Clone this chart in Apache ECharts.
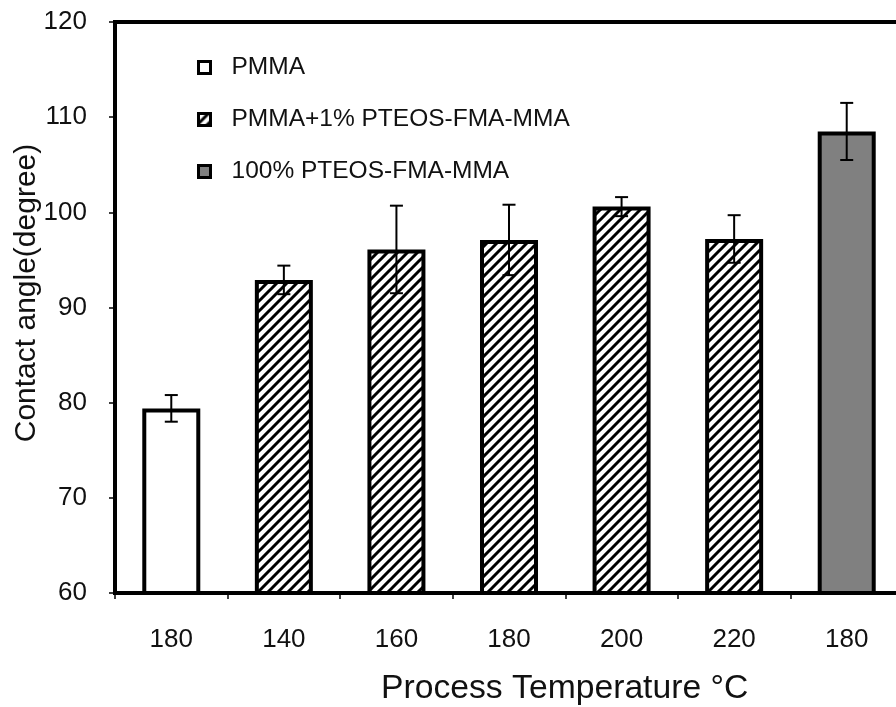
<!DOCTYPE html>
<html>
<head>
<meta charset="utf-8">
<script src="https://cdn.jsdelivr.net/npm/echarts@6/dist/echarts.min.js"></script>
<style>
  html, body { margin: 0; padding: 0; background: #fff; }
  #chart { width: 896px; height: 707px; }
</style>
</head>
<body>
<div id="chart"></div>
<script>
// Process temperature categories (°C)
const categories = ['180', '140', '160', '180', '200', '220', '180'];
// Contact angle (degree) per series; '-' where a series has no bar
const pmmaValues  = [79.4, '-', '-', '-', '-', '-', '-'];
const blendValues = ['-', 92.9, 96.1, 97.1, 100.6, 97.2, '-'];
const pureValues  = ['-', '-', '-', '-', '-', '-', 108.5];
// Standard deviation for each bar, in category order
const errorValues = [1.4, 1.5, 4.6, 3.7, 1.0, 2.5, 3.0];
// Y axis ticks
const yTicks = [60, 70, 80, 90, 100, 110, 120];

const seriesNames = ['PMMA', 'PMMA+1% PTEOS-FMA-MMA', '100% PTEOS-FMA-MMA'];
const FONT = "'Liberation Sans', Arial, sans-serif";

// Diagonal hatch fill
function makeHatch() {
  const s = 10;
  const c = document.createElement('canvas');
  c.width = s; c.height = s;
  const g = c.getContext('2d');
  g.fillStyle = '#fff';
  g.fillRect(0, 0, s, s);
  g.strokeStyle = '#000';
  g.lineWidth = 3;
  g.lineCap = 'square';
  g.beginPath();
  g.moveTo(0, s); g.lineTo(s, 0);
  g.moveTo(-s / 2, s / 2); g.lineTo(s / 2, -s / 2);
  g.moveTo(s / 2, s * 1.5); g.lineTo(s * 1.5, s / 2);
  g.stroke();
  return c;
}
const hatch = { image: makeHatch(), repeat: 'repeat' };

// combined value per category, used to center the error bars
const barValues = categories.map((_, i) =>
  [pmmaValues[i], blendValues[i], pureValues[i]].find(v => v !== '-'));
const errorData = barValues.map((v, i) => [i, v - errorValues[i], v + errorValues[i]]);

const chart = echarts.init(document.getElementById('chart'), null, { renderer: 'canvas' });

const barCommon = {
  type: 'bar',
  barWidth: 58,
  barGap: '-100%'
};

chart.setOption({
  animation: false,
  backgroundColor: '#fff',
  textStyle: { fontFamily: FONT },
  grid: {
    left: 115, top: 22, width: 788, height: 571,
    outerBoundsMode: 'none',
    containLabel: false,
    show: true, borderColor: '#000', borderWidth: 4, backgroundColor: 'transparent'
  },
  legend: {
    data: seriesNames,
    orient: 'vertical',
    left: 192, top: 50,
    itemWidth: 12, itemHeight: 12,
    itemGap: 27,
    icon: 'rect',
    itemStyle: { borderColor: '#000', borderWidth: 3 },
    textStyle: { fontFamily: FONT, fontSize: 24.5, color: '#111', padding: [0, 0, 0, 16] },
    selectedMode: false
  },
  xAxis: {
    type: 'category',
    data: categories,
    boundaryGap: true,
    axisLine: { lineStyle: { color: '#000', width: 4 } },
    axisTick: { show: true, length: 6, lineStyle: { color: '#000', width: 1.5 } },
    axisLabel: { color: '#111', fontSize: 26, fontFamily: FONT, margin: 34 },
    splitLine: { show: false }
  },
  yAxis: {
    type: 'value',
    min: yTicks[0], max: yTicks[yTicks.length - 1], interval: 10,
    axisLine: { show: true, lineStyle: { color: '#000', width: 4 } },
    axisTick: { show: true, length: 6, lineStyle: { color: '#000', width: 1.5 } },
    axisLabel: { color: '#111', fontSize: 26, fontFamily: FONT, margin: 28 },
    splitLine: { show: false }
  },
  graphic: [{
    type: 'text',
    x: 27, y: 293,
    rotation: Math.PI / 2,
    style: {
      text: 'Contact angle(degree)',
      font: "30px 'Liberation Sans', Arial, sans-serif",
      fill: '#111',
      align: 'center',
      verticalAlign: 'middle'
    }
  }, {
    type: 'text',
    x: 381, y: 689,
    style: {
      text: 'Process Temperature °C',
      font: "33.7px 'Liberation Sans', Arial, sans-serif",
      fill: '#111',
      align: 'left',
      verticalAlign: 'middle'
    }
  }],
  series: [
    Object.assign({}, barCommon, {
      name: seriesNames[0], data: pmmaValues,
      itemStyle: { color: '#fff', borderColor: '#000', borderWidth: 4 }
    }),
    Object.assign({}, barCommon, {
      name: seriesNames[1], data: blendValues,
      itemStyle: { color: hatch, borderColor: '#000', borderWidth: 4 }
    }),
    Object.assign({}, barCommon, {
      name: seriesNames[2], data: pureValues,
      itemStyle: { color: '#808080', borderColor: '#000', borderWidth: 4 }
    }),
    {
      type: 'custom',
      name: 'error',
      z: 10,
      data: errorData,
      renderItem: function (params, api) {
        const x = api.value(0);
        const lo = api.coord([x, api.value(1)]);
        const hi = api.coord([x, api.value(2)]);
        const half = 6.5;
        const style = { stroke: '#000', lineWidth: 2 };
        return {
          type: 'group',
          children: [
            { type: 'line', shape: { x1: hi[0], y1: hi[1], x2: lo[0], y2: lo[1] }, style },
            { type: 'line', shape: { x1: hi[0] - half, y1: hi[1], x2: hi[0] + half, y2: hi[1] }, style },
            { type: 'line', shape: { x1: lo[0] - half, y1: lo[1], x2: lo[0] + half, y2: lo[1] }, style }
          ]
        };
      }
    }
  ]
});
</script>
</body>
</html>
